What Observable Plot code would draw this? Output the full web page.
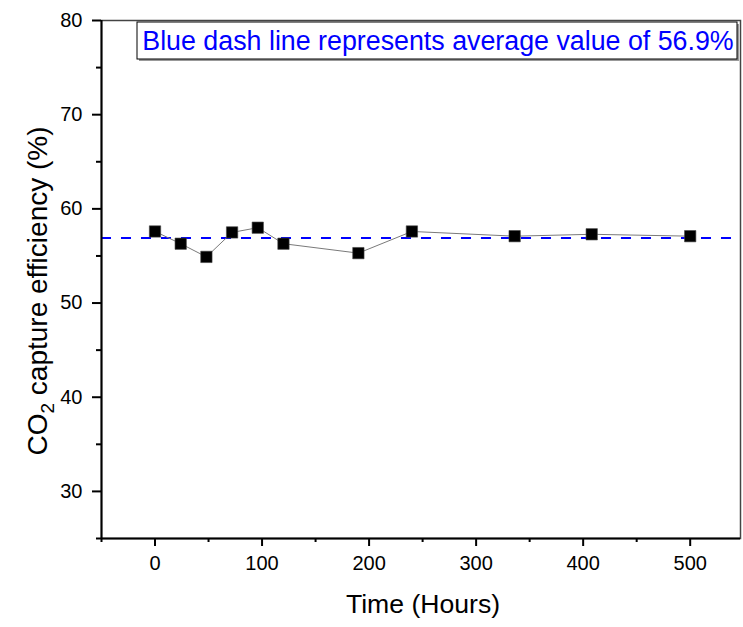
<!DOCTYPE html>
<html><head><meta charset="utf-8">
<script src="https://cdn.jsdelivr.net/npm/d3@7"></script>
<script src="https://cdn.jsdelivr.net/npm/@observablehq/plot@0.6"></script>
<style>body{margin:0;background:#fff;} #chart svg{display:block;}</style>
</head><body><div id="chart"></div>
<script>
const hours = [0, 24, 48, 72, 96, 120, 190, 240, 336, 408, 500];
const efficiency = [57.6, 56.3, 54.9, 57.5, 58.0, 56.3, 55.3, 57.6, 57.1, 57.3, 57.1];
const averageValue = 56.9;
const xMajorTicks = [0, 100, 200, 300, 400, 500];
const xMinorTicks = [-50, 50, 150, 250, 350, 450];
const yMajorTicks = [30, 40, 50, 60, 70, 80];
const yMinorTicks = [25, 35, 45, 55, 65, 75];
const xDomain = [-50, 547];
const yDomain = [25, 80];
const xLabel = "Time (Hours)";
const yLabelMain = "CO";
const yLabelSub = "2";
const yLabelRest = " capture efficiency (%)";
const noteText = "Blue dash line represents average value of 56.9%";

const data = hours.map((h, i) => ({h, e: efficiency[i]}));
const font = "'Liberation Sans', Arial, sans-serif";

const W = 743, H = 627;
const mL = 101, mR = 3, mT = 20, mB = 89;

const plot = Plot.plot({
  width: W, height: H,
  marginLeft: mL, marginRight: mR, marginTop: mT, marginBottom: mB,
  style: {fontFamily: font, fontSize: "20px", color: "#000", background: "#fff"},
  x: {domain: xDomain},
  y: {domain: yDomain},
  marks: [
    Plot.frame({stroke: "#444", strokeWidth: 1.5}),
    Plot.ruleY([averageValue], {stroke: "#0000ff", strokeWidth: 2, strokeDasharray: "10,10"}),
    Plot.line(data, {x: "h", y: "e", stroke: "#7a7a7a", strokeWidth: 1}),
    Plot.dot(data, {x: "h", y: "e", symbol: "square", r: 6.4, fill: "#000", stroke: "#444", strokeWidth: 0.6}),
    Plot.ruleX([xDomain[0]], {stroke: "#000", strokeWidth: 2}),
    Plot.ruleY([yDomain[0]], {stroke: "#000", strokeWidth: 2}),
    Plot.axisX({ticks: xMajorTicks, tickSize: 8, tickPadding: 9, tickFormat: d => String(d), label: null, strokeWidth: 2, fontSize: 20}),
    Plot.axisX({ticks: xMinorTicks, tickSize: 4, tickFormat: () => "", label: null, strokeWidth: 2}),
    Plot.axisY({ticks: yMajorTicks, tickSize: 9, tickPadding: 10, tickFormat: d => String(d), label: null, strokeWidth: 2, fontSize: 20}),
    Plot.axisY({ticks: yMinorTicks, tickSize: 5, tickFormat: () => "", label: null, strokeWidth: 2})
  ]
});

document.getElementById("chart").appendChild(plot);
const svg = d3.select(plot);

// x axis title
svg.append("text")
  .attr("x", 423)
  .attr("y", 613)
  .attr("text-anchor", "middle")
  .attr("font-family", font)
  .attr("font-size", 26.6)
  .attr("fill", "#000")
  .text(xLabel);

// y axis title with subscript
const yt = svg.append("text")
  .attr("transform", `translate(47,291) rotate(-90)`)
  .attr("text-anchor", "middle")
  .attr("font-family", font)
  .attr("font-size", 28)
  .attr("fill", "#000");
yt.append("tspan").text(yLabelMain);
yt.append("tspan").attr("font-size", 19).attr("dy", 7).text(yLabelSub);
yt.append("tspan").attr("dy", -7).text(yLabelRest);

// annotation box
const bx = 137, by = 22, bw = 600, bh = 37;
svg.append("rect").attr("x", bx + 2).attr("y", by + 2).attr("width", bw).attr("height", bh).attr("fill", "#999");
svg.append("rect").attr("x", bx).attr("y", by).attr("width", bw).attr("height", bh).attr("fill", "#fff").attr("stroke", "#000").attr("stroke-width", 1);
svg.append("text")
  .attr("x", bx + bw / 2 + 1)
  .attr("y", by + 28)
  .attr("text-anchor", "middle")
  .attr("font-family", font)
  .attr("font-size", 26.8)
  .attr("fill", "#0000ff")
  .text(noteText);
</script>
</body></html>
